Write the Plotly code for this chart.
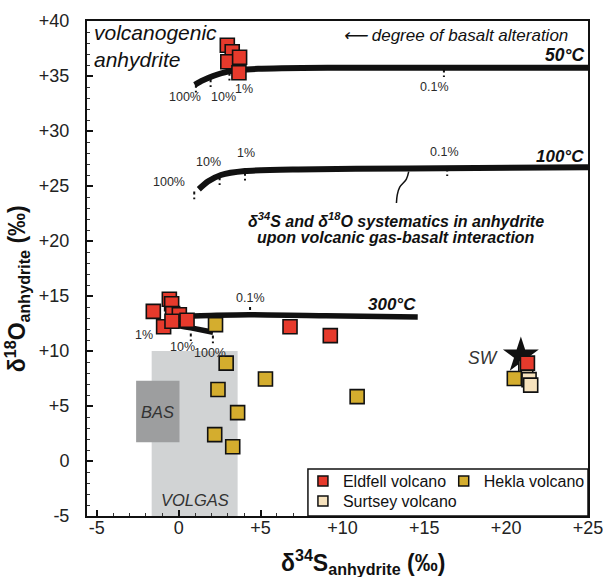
import plotly.graph_objects as go

FONT = "Liberation Sans, Arial, sans-serif"

# ---- data ----
eldfell_x = [2.97, 3.27, 3.0, 3.72, 3.68,
             -0.57, -0.43, -1.55, -0.37, 0.04, -0.92, -0.41, 0.51,
             6.8, 9.26, 21.3]
eldfell_y = [37.8, 37.2, 36.3, 36.7, 35.3,
             14.7, 14.3, 13.6, 13.4, 13.3, 12.2, 12.7, 12.8,
             12.2, 11.4, 8.9]

hekla_x = [2.25, 2.9, 5.3, 2.4, 3.6, 2.2, 3.3, 10.9, 20.5]
hekla_y = [12.4, 8.9, 7.45, 6.5, 4.4, 2.4, 1.3, 5.85, 7.5]

surtsey_x = [21.2, 21.4, 21.5]
surtsey_y = [8.5, 7.4, 6.9]

sw_x = [20.9]
sw_y = [9.6]

# model curves (delta34S, delta18O)
c50_x = [0.98, 1.47, 2.1, 3.0, 4.85, 9.1, 16.2, 25.0]
c50_y = [34.2, 34.6, 35.0, 35.4, 35.65, 35.75, 35.75, 35.75]
c100_x = [1.23, 1.78, 2.58, 4.05, 7.3, 14.05, 25.0]
c100_y = [24.7, 25.4, 26.0, 26.36, 26.5, 26.6, 26.7]
c300_x = [2.1, 0.75, -0.6, -0.5, 0.5, 4.3, 9.0, 14.6]
c300_y = [11.7, 12.1, 12.5, 12.9, 13.15, 13.3, 13.2, 13.1]

# alteration-degree marks: (x, y-top, label, label-x, label-y)
marks_50 = [(1.05, 34.2, "100%", 0.37, 33.1), (1.95, 34.7, "10%", 2.76, 33.1),
            (3.1, 35.3, "1%", 4.0, 33.8), (16.2, 35.6, "0.1%", 15.6, 34.0)]
marks_100 = [(0.95, 24.5, "100%", -0.57, 25.4), (2.5, 25.8, "10%", 1.84, 27.2),
             (4.05, 26.2, "1%", 4.1, 28.0), (16.4, 26.6, "0.1%", 16.25, 28.1)]
marks_300 = [(0.74, 11.6, "10%", 0.25, 10.4), (2.09, 11.4, "100%", 1.9, 9.8),
             (4.36, 14.0, "0.1%", 4.36, 14.8)]
label_1pct_300 = (-2.1, 11.45)

x_ticks = [-5, 0, 5, 10, 15, 20, 25]
x_ticktext = ["-5", "0", "+5", "+10", "+15", "+20", "+25"]
y_ticks = [-5, 0, 5, 10, 15, 20, 25, 30, 35, 40]
y_ticktext = ["-5", "0", "+5", "+10", "+15", "+20", "+25", "+30", "+35", "+40"]

RED = "#e63a2c"
GOLD = "#d4ad2e"
BEIGE = "#f6e2bd"

fig = go.Figure()

# curves
for cx, cy in [(c50_x, c50_y), (c100_x, c100_y)]:
    fig.add_trace(go.Scatter(x=cx, y=cy, mode="lines",
                             line=dict(color="#111", width=6, shape="spline", smoothing=0.6),
                             showlegend=False, hoverinfo="skip"))
fig.add_trace(go.Scatter(x=c300_x, y=c300_y, mode="lines",
                         line=dict(color="#111", width=5.5, shape="spline", smoothing=0.5),
                         showlegend=False, hoverinfo="skip"))

# connector
fig.add_trace(go.Scatter(x=[14.05, 13.9, 13.5, 13.35, 13.3], y=[26.3, 25.6, 24.9, 24.2, 23.45],
                         mode="lines", line=dict(color="#111", width=1.5, shape="spline"),
                         showlegend=False, hoverinfo="skip"))

# star (seawater)
fig.add_trace(go.Scatter(x=sw_x, y=sw_y, mode="markers",
                         marker=dict(symbol="star", size=27, color="#111", line=dict(width=0)),
                         showlegend=False))

sq = dict(symbol="square", size=14, line=dict(color="#111", width=1.6))
fig.add_trace(go.Scatter(x=surtsey_x, y=surtsey_y, mode="markers", marker=dict(color=BEIGE, **sq),
                         showlegend=False))
fig.add_trace(go.Scatter(x=eldfell_x, y=eldfell_y, mode="markers", marker=dict(color=RED, **sq),
                         showlegend=False))
fig.add_trace(go.Scatter(x=hekla_x, y=hekla_y, mode="markers", marker=dict(color=GOLD, **sq),
                         showlegend=False))

# legend entries (three small legends sharing one frame)
lg = dict(symbol="square", size=10, line=dict(color="#111", width=1.5))
fig.add_trace(go.Scatter(x=[None], y=[None], mode="markers", name="Eldfell volcano",
                         marker=dict(color=RED, **lg), legend="legend"))
fig.add_trace(go.Scatter(x=[None], y=[None], mode="markers", name="Hekla volcano",
                         marker=dict(color=GOLD, **lg), legend="legend3"))
fig.add_trace(go.Scatter(x=[None], y=[None], mode="markers", name="Surtsey volcano",
                         marker=dict(color=BEIGE, **lg), legend="legend2"))

shapes = [
    dict(type="rect", xref="x", yref="y", x0=-1.65, x1=3.6, y0=-5, y1=10,
         fillcolor="#d1d3d4", line=dict(width=0), layer="below"),
    dict(type="rect", xref="x", yref="y", x0=-2.6, x1=0.05, y0=1.7, y1=7.3,
         fillcolor="#9d9e9f", line=dict(width=0), layer="below"),
    # legend frame
    dict(type="rect", xref="paper", yref="paper", x0=0.441, x1=1.0, y0=0.0, y1=0.095,
         fillcolor="white", line=dict(color="#111", width=1.5), layer="above"),
]
annotations = []
PCT = dict(size=12.5, color="#2a2a2a", family=FONT)
for marks in (marks_50, marks_100, marks_300):
    for (mx, my, lab, lx, ly) in marks:
        shapes.append(dict(type="line", xref="x", yref="y", x0=mx, x1=mx, y0=my, y1=my - 0.7,
                           line=dict(color="#111", width=2, dash="dot")))
        annotations.append(dict(x=lx, y=ly, xref="x", yref="y", text=lab, showarrow=False, font=PCT))
annotations.append(dict(x=label_1pct_300[0], y=label_1pct_300[1], xref="x", yref="y", text="1%",
                        showarrow=False, font=PCT))

def txt(x, y, t, size, xanchor="center", color="#111", align="center"):
    annotations.append(dict(x=x, y=y, xref="x", yref="y", text=t, showarrow=False, align=align,
                            xanchor=xanchor, font=dict(size=size, color=color, family=FONT)))

txt(-5.3, 37.7, "<i>volcanogenic<br>anhydrite</i>", 21, xanchor="left", align="left")
txt(9.9, 38.7, "<i>\u27f5 degree of basalt alteration</i>", 17, xanchor="left")
txt(24.85, 36.9, "<b><i>50°C</i></b>", 17.5, xanchor="right")
txt(24.85, 27.7, "<b><i>100°C</i></b>", 17, xanchor="right")
txt(14.6, 14.25, "<b><i>300°C</i></b>", 17, xanchor="right")
txt(13.3, 21.9, "<b><i>δ<sup>34</sup>S and δ<sup>18</sup>O systematics in anhydrite</i></b>", 16)
txt(13.3, 20.3, "<b><i>upon volcanic gas-basalt interaction</i></b>", 16)
txt(18.6, 9.4, "<i>SW</i>", 17.5, color="#333")
txt(-1.3, 4.45, "<i>BAS</i>", 16.5, color="#333")
txt(0.98, -3.5, "<i>VOLGAS</i>", 16.5, color="#333")

# axis titles
annotations.append(dict(x=0.55, y=-0.093, xref="paper", yref="paper", yanchor="middle", showarrow=False,
                        text="<b>δ<sup>34</sup>S<sub>anhydrite</sub> (‰)</b>",
                        font=dict(size=23, color="#111", family=FONT)))
annotations.append(dict(x=-0.14, y=0.46, xref="paper", yref="paper", xanchor="center", showarrow=False,
                        textangle=-90,
                        text="<b>δ<sup>18</sup>O<sub>anhydrite</sub> (‰)</b>",
                        font=dict(size=23, color="#111", family=FONT)))

axis_common = dict(showgrid=False, zeroline=False, showline=True, linecolor="#111", linewidth=2,
                   mirror=True, ticks="inside", ticklen=6, tickwidth=1.5, tickcolor="#111",
                   tickfont=dict(size=18, color="#222", family=FONT), ticklabeloverflow="allow",
                   minor=dict(dtick=1, ticks="inside", ticklen=3, tickwidth=1, tickcolor="#333"))

LEGFONT = dict(size=16, color="#111", family=FONT)
leg_common = dict(xanchor="left", yanchor="middle", orientation="h", itemwidth=30,
                  bgcolor="rgba(0,0,0,0)", borderwidth=0, font=LEGFONT)
fig.update_layout(
    width=603, height=577,
    margin=dict(l=87, r=15, t=21, b=61, autoexpand=False),
    paper_bgcolor="white", plot_bgcolor="white",
    xaxis=dict(range=[-5.6, 25.0], tickvals=x_ticks, ticktext=x_ticktext, ticklabelstandoff=-6,
               **axis_common),
    yaxis=dict(range=[-5, 40], tickvals=y_ticks, ticktext=y_ticktext, ticklabelstandoff=12,
               **axis_common),
    shapes=shapes, annotations=annotations,
    legend=dict(x=0.431, y=0.0707, **leg_common),
    legend3=dict(x=0.712, y=0.0707, **leg_common),
    legend2=dict(x=0.431, y=0.0303, **leg_common),
    showlegend=True,
)

fig.write_html("out.html", config={"displayModeBar": False},
               post_script="document.body.style.margin='0';")
